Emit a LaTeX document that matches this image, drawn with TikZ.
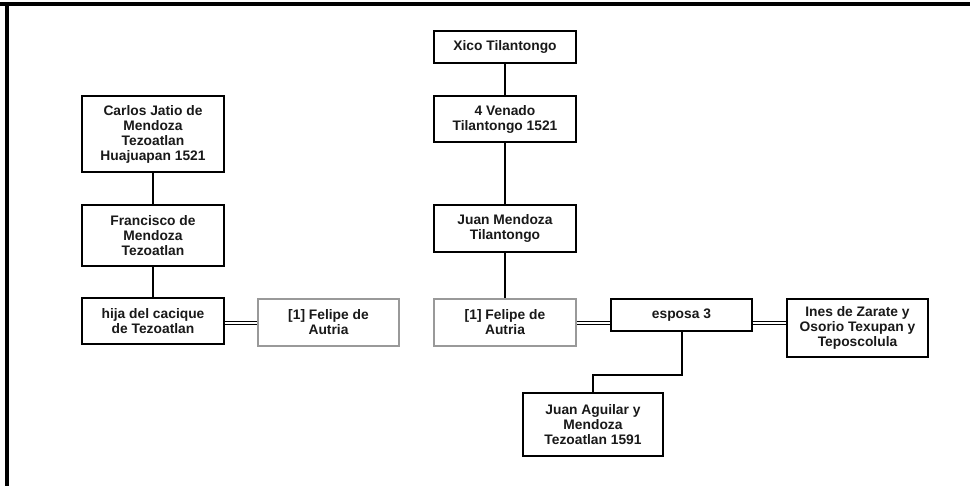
\documentclass[tikz,border=0pt]{standalone}
\usepackage{fontspec}
\setmainfont{Liberation Sans}
\begin{document}
\begin{tikzpicture}[x=1pt,y=-1pt,
  person/.style={draw=black, line width=1.3pt, fill=white, inner sep=0pt,
    align=center, font=\bfseries\fontsize{13.8}{15}\selectfont, text=black!90},
  ghost/.style={person, draw=black!40},
  link/.style={draw=black, line width=1.2pt},
  marriage/.style={draw=black, line width=1.1pt, double=white, double distance=2.5pt}]
% page and outer frame (top and left edges only)
\useasboundingbox (0,0) rectangle (970,486);
\fill[black] (0,2) rectangle (970,6);
\fill[black] (5,2) rectangle (9,486);

% helper: box from corner coordinates
\newcommand{\famnode}[7]{%
  \node[#1, minimum width={#5-#3}, minimum height={#6-#4}] (#2)
    at ({(#3+#5)/2},{(#4+#6)/2}) {#7};}

% left line
\famnode{person}{carlos}{82}{96}{224}{172}{Carlos Jatio de\\Mendoza\\Tezoatlan\\Huajuapan 1521}
\famnode{person}{francisco}{82}{205}{224}{266}{Francisco de\\Mendoza\\Tezoatlan}
\famnode{person}{hija}{82}{298}{224}{344}{hija del cacique\\de Tezoatlan}
\famnode{ghost}{felipeA}{258}{299}{399}{346}{[1] Felipe de\\Autria}

% right line
\famnode{person}{xico}{434}{31}{576}{63}{Xico Tilantongo}
\famnode{person}{venado}{434}{96}{576}{142}{4 Venado\\Tilantongo 1521}
\famnode{person}{juanm}{434}{205}{576}{252}{Juan Mendoza\\Tilantongo}
\famnode{ghost}{felipeB}{434}{299}{576}{346}{[1] Felipe de\\Autria}
\famnode{person}{esposa}{611}{299}{752}{331}{esposa 3}
\famnode{person}{ines}{787}{299}{928}{357}{Ines de Zarate y\\Osorio Texupan y\\Teposcolula}
\famnode{person}{juana}{523}{393}{663}{456}{Juan Aguilar y\\Mendoza\\Tezoatlan 1591}

% descent
\draw[link] (carlos.south) -- (francisco.north);
\draw[link] (francisco.south) -- (hija.north);
\draw[link] (xico.south) -- (venado.north);
\draw[link] (venado.south) -- (juanm.north);
\draw[link] (juanm.south) -- (felipeB.north);
\coordinate (drop) at (682,375);
\draw[link] (esposa.south -| drop) -- (drop) -- (drop -| juana.north) -- (juana.north);

% marriages
\draw[marriage] (hija.east |- 0,323) -- (felipeA.west |- 0,323);
\draw[marriage] (felipeB.east |- 0,323) -- (esposa.west |- 0,323);
\draw[marriage] (esposa.east |- 0,323) -- (ines.west |- 0,323);
\end{tikzpicture}
\end{document}
